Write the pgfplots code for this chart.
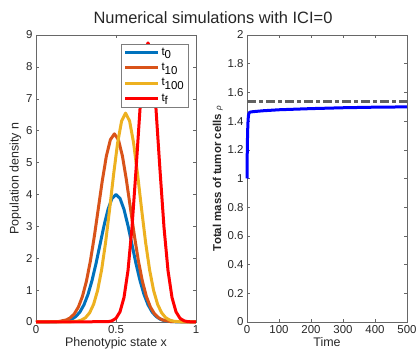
\documentclass[border=0pt]{standalone}
\usepackage{pgfplots}
\pgfplotsset{compat=1.18}
\usepackage{fontspec}
\setmainfont{Liberation Sans}
\definecolor{mblue}{rgb}{0,0.447,0.741}
\definecolor{morange}{rgb}{0.85,0.325,0.098}
\definecolor{myellow}{rgb}{0.929,0.694,0.125}
\definecolor{axgray}{rgb}{0.15,0.15,0.15}
\pgfplotsset{
  mystyle/.style={
    scale only axis,
    anchor=south west,
    width=160bp, height=287bp,
    axis line style={draw=axgray!70, line width=0.5pt},
    tick style={draw=axgray!70, line width=0.5pt},
    tick align=inside,
    major tick length=3bp,
    ticklabel style={font=\fontsize{11.5}{13}\selectfont, text=axgray},
    label style={font=\fontsize{12.5}{14}\selectfont, text=axgray},
    /pgf/number format/assume math mode=true,
    /pgf/number format/fixed,
    scaled ticks=false,
  }
}
\begin{document}
\begin{tikzpicture}[x=1bp,y=1bp]
\useasboundingbox (0,0) rectangle (417,354);
\node[font=\fontsize{16.5}{19}\selectfont, text=black!85] at (213,336) {Numerical simulations with ICI=0};
\begin{axis}[mystyle, at={(36bp,32bp)},
  xmin=0, xmax=1, ymin=0, ymax=9,
  xtick={0,0.5,1}, ytick={0,1,...,9},
  xlabel={Phenotypic state x}, ylabel={Population density n},
  xlabel style={yshift=3bp}, ylabel style={yshift=-2bp},
  clip=false,
  legend style={at={(0.95,0.97)}, anchor=north east, draw=axgray!60, fill=white,
    font=\fontsize{11.5}{12}\selectfont, inner sep=2bp, row sep=2.5bp},
  legend cell align=left,
  legend image code/.code={\draw[#1] (0bp,0bp) -- (33bp,0bp);},
  every axis plot/.append style={line width=3bp, line join=round},
]
\addplot[mblue] coordinates {(0,0) (0.15,0.009) (0.2,0.044) (0.225,0.091) (0.25,0.176) (0.275,0.318) (0.3,0.541) (0.325,0.865) (0.35,1.299) (0.375,1.831) (0.4,2.426) (0.425,3.019) (0.45,3.530) (0.475,3.877) (0.5,4) (0.525,3.877) (0.55,3.530) (0.575,3.019) (0.6,2.426) (0.625,1.831) (0.65,1.299) (0.675,0.865) (0.7,0.541) (0.725,0.318) (0.75,0.176) (0.775,0.091) (0.8,0.044) (0.85,0.009) (1,0)};
\addlegendentry{t\raisebox{-0.6ex}{0}}
\addplot[morange] coordinates {(0,0) (0.14,0.013) (0.19,0.066) (0.215,0.135) (0.24,0.259) (0.265,0.470) (0.29,0.798) (0.315,1.276) (0.34,1.916) (0.365,2.701) (0.39,3.578) (0.415,4.453) (0.44,5.207) (0.465,5.718) (0.49,5.9) (0.515,5.718) (0.54,5.207) (0.565,4.453) (0.59,3.578) (0.615,2.701) (0.64,1.916) (0.665,1.276) (0.69,0.798) (0.715,0.470) (0.74,0.259) (0.765,0.135) (0.79,0.066) (0.84,0.013) (1,0)};
\addlegendentry{t\raisebox{-0.6ex}{10}}
\addplot[myellow] coordinates {(0,0) (0.21,0.003) (0.26,0.025) (0.285,0.062) (0.31,0.138) (0.335,0.288) (0.36,0.554) (0.385,0.989) (0.41,1.634) (0.435,2.497) (0.46,3.533) (0.485,4.628) (0.51,5.613) (0.535,6.302) (0.56,6.55) (0.585,6.302) (0.61,5.613) (0.635,4.628) (0.66,3.533) (0.685,2.497) (0.71,1.634) (0.735,0.989) (0.76,0.554) (0.785,0.288) (0.81,0.138) (0.835,0.062) (0.86,0.025) (0.91,0.003) (1,0)};
\addlegendentry{t\raisebox{-0.6ex}{100}}
\addplot[red] coordinates {(0,0) (0.45,0.010) (0.475,0.037) (0.5,0.116) (0.525,0.319) (0.55,0.768) (0.575,1.615) (0.6,2.967) (0.625,4.763) (0.65,6.678) (0.675,8.178) (0.6875,8.603) (0.7,8.75) (0.7125,8.603) (0.725,8.178) (0.75,6.678) (0.775,4.763) (0.8,2.967) (0.825,1.615) (0.85,0.768) (0.875,0.319) (0.9,0.116) (0.925,0.037) (0.95,0.010) (1,0)};
\addlegendentry{t\raisebox{-0.6ex}{f}}
\end{axis}
\begin{axis}[mystyle, at={(247bp,32bp)},
  xmin=0, xmax=500, ymin=0, ymax=2,
  xtick={0,100,...,500}, ytick={0,0.2,...,2},
  yticklabel style={/pgf/number format/precision=1},
  xlabel={Time}, ylabel={\fontsize{11.5}{13}\selectfont\bfseries Total mass of tumor cells {\fontsize{8}{9}\selectfont\itshape\mdseries ρ}},
  xlabel style={yshift=3bp}, ylabel style={yshift=-2bp},
  clip=false,
]
\addplot[draw=black!62, line width=3bp, dash pattern=on 9bp off 3bp on 4bp off 3bp] coordinates {(0,1.535) (500,1.535)};
\addplot[blue, line width=3bp, line join=round] coordinates {(0,1) (0.5,1.12) (1,1.22) (2,1.33) (3,1.39) (4,1.425) (5,1.445) (7,1.458) (10,1.463) (20,1.466) (50,1.472) (100,1.479) (200,1.487) (300,1.493) (400,1.497) (500,1.499)};
\end{axis}
\end{tikzpicture}
\end{document}
